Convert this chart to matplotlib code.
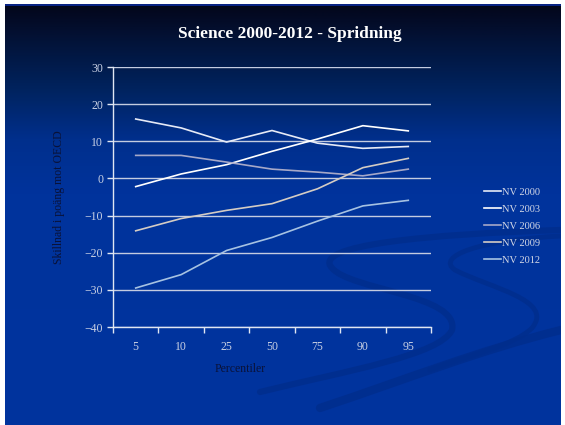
import numpy as np
import matplotlib.pyplot as plt
from matplotlib.path import Path
from matplotlib.patches import PathPatch
from matplotlib.colors import LinearSegmentedColormap

percentiles = ['5', '10', '25', '50', '75', '90', '95']
nv2000 = [16.0, 13.6, 9.8, 12.9, 9.5, 8.1, 8.6]
nv2003 = [-2.2, 1.2, 3.7, 7.3, 10.6, 14.2, 12.8]
nv2006 = [6.2, 6.2, 4.4, 2.5, 1.7, 0.7, 2.5]
nv2009 = [-14.1, -10.8, -8.6, -6.8, -2.8, 2.9, 5.4]
nv2012 = [-29.5, -25.9, -19.4, -15.9, -11.5, -7.4, -5.9]
series_names = ['NV 2000', 'NV 2003', 'NV 2006', 'NV 2009', 'NV 2012']
series_colors = ['#e6eaf6', '#ffffff', '#a6a8c8', '#d4ccc4', '#a6c2e2']

serif = ['Liberation Serif', 'DejaVu Serif']
tick_color = '#c8d0e4'
dark_text = '#0a1238'

fig = plt.figure(figsize=(5.65, 4.25), dpi=100, facecolor='white')

# slide background: dark navy at the top fading into royal blue
bg = fig.add_axes([5 / 565, 0, 556 / 565, 421 / 425])
bg.set_axis_off()
cmap = LinearSegmentedColormap.from_list(
    'slide', [(0, '#03061a'), (0.08, '#031236'), (0.2, '#00235e'),
              (0.32, '#002f8c'), (0.45, '#00339c'), (1, '#00349e')])
grad = np.linspace(0, 1, 256).reshape(-1, 1)
bg.imshow(grad, cmap=cmap, aspect='auto', extent=[5, 561, 425, 4])
bg.set_xlim(5, 561)
bg.set_ylim(425, 4)
bg.axhline(4.5, color='#0a2a9a', lw=1.2)

# decorative swooshes in the lower right
swoosh = '#002d8c'
curves = [
    [(561, 230), (430, 234), (310, 245), (332, 268),
     (350, 290), (460, 295), (452, 330),
     (440, 355), (350, 370), (260, 392)],
    [(561, 330), (480, 350), (410, 378), (320, 408)],
    [(561, 236), (480, 240), (435, 256), (455, 270),
     (490, 288), (555, 300), (532, 328),
     (515, 345), (470, 355), (430, 370)],
]
widths = [4.5, 6, 3.5]
for pts, w in zip(curves, widths):
    codes = [Path.MOVETO] + [Path.CURVE4] * (len(pts) - 1)
    bg.add_patch(PathPatch(Path(pts, codes), fill=False, edgecolor=swoosh,
                           lw=w, alpha=0.8, capstyle='round'))

ax = fig.add_axes([113 / 565, 98 / 425, 318 / 565, 260 / 425])
ax.patch.set_alpha(0)
x = np.arange(len(percentiles))
for vals, name, col in zip([nv2000, nv2003, nv2006, nv2009, nv2012],
                           series_names, series_colors):
    ax.plot(x, vals, color=col, lw=1.2, label=name, zorder=3)

ax.set_xlim(-0.5, len(percentiles) - 0.5)
ax.set_ylim(-40, 30)
ax.set_yticks(range(-40, 31, 10))
ax.grid(axis='y', color='#c4cce0', lw=1.0, zorder=1)
ax.set_xticks(x)
ax.set_xticklabels(percentiles)
ax.set_xticks(np.arange(-0.5, len(percentiles)), minor=True)
ax.tick_params(axis='x', which='major', length=0, pad=10,
               labelsize=8.5, labelcolor=tick_color)
ax.tick_params(axis='x', which='minor', length=4, color='#e0e6f2', width=1)
ax.tick_params(axis='y', length=4, color='#e0e6f2', width=1,
               labelsize=8.5, labelcolor=tick_color, pad=3)
for lab in ax.get_xticklabels() + ax.get_yticklabels():
    lab.set_family(serif)
for side in ['top', 'right']:
    ax.spines[side].set_visible(False)
for side in ['left', 'bottom']:
    ax.spines[side].set_color('#e0e6f2')
    ax.spines[side].set_linewidth(1)

ax.set_xlabel('Percentiler', family=serif, fontsize=8.5, color=dark_text)
ax.xaxis.set_label_coords(0.4, -0.14)
ax.set_ylabel('Skillnad i poäng mot OECD', family=serif, fontsize=8.5,
              color=dark_text)
ax.yaxis.set_label_coords(-0.15, 0.5)

fig.legend(loc='upper left', bbox_to_anchor=(475 / 565, 1 - 178 / 425),
           frameon=False, handlelength=1.6, handletextpad=0.1,
           labelspacing=0.75, labelcolor='#d4d8e6',
           prop={'family': serif, 'size': 7.5})

fig.text(290 / 565, 1 - 34 / 425, 'Science 2000-2012 - Spridning',
         ha='center', va='center', color='white', fontsize=12.5,
         fontweight='bold', family=serif)

fig.savefig('out.png', dpi=100, facecolor='white')
